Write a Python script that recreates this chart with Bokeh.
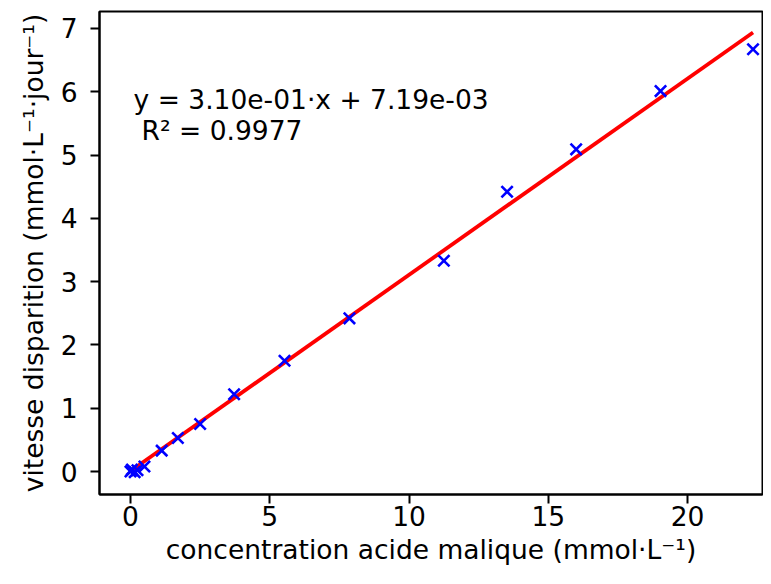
from bokeh.plotting import figure
from bokeh.models import FixedTicker, Range1d
from bokeh.core.properties import value
from bokeh.embed import file_html
from bokeh.resources import INLINE

# Data
conc = [0.0, 0.05, 0.15, 0.25, 0.5, 1.12, 1.70, 2.50, 3.72, 5.53, 7.86, 11.25, 13.52, 16.0, 19.03, 22.35]
vitesse = [0.0, 0.03, -0.01, 0.02, 0.08, 0.33, 0.53, 0.75, 1.22, 1.75, 2.42, 3.33, 4.42, 5.09, 6.01, 6.67]
slope = 3.10e-01
intercept = 7.19e-03
r2 = 0.9977
x_ticks = [0, 5, 10, 15, 20]
y_ticks = [0, 1, 2, 3, 4, 5, 6, 7]
eq_lines = ["y = 3.10e-01·x + 7.19e-03", "R² = 0.9977"]

FONT = "DejaVu Sans"
FS = "26.5px"

p = figure(width=763, height=568, output_backend="svg", toolbar_location=None,
           x_range=Range1d(-1.113, 22.69), y_range=Range1d(-0.363, 7.267),
           min_border_left=99, min_border_right=1, min_border_top=11, min_border_bottom=74)
p.background_fill_color = "white"
p.border_fill_color = "white"
p.outline_line_color = "black"
p.outline_line_width = 2
p.grid.visible = False

fit_x = [min(conc), max(conc)]
fit_y = [slope * v + intercept for v in fit_x]
p.line(fit_x, fit_y, line_color="#ff0000", line_width=3.8)
p.scatter(conc, vitesse, marker="x", size=16, line_color="#0000ff", line_width=2.6)

p.text(x=[0.11], y=[5.87], text=[eq_lines[0]], text_font=value(FONT), text_font_size=FS,
       text_color="black", text_baseline="alphabetic", text_align="left")
p.text(x=[0.11], y=[5.38], text=[eq_lines[1]], text_font=value(FONT), text_font_size=FS,
       text_color="black", text_baseline="alphabetic", text_align="left", x_offset=8)

for ax in (p.xaxis[0], p.yaxis[0]):
    ax.axis_line_width = 2
    ax.major_tick_line_width = 2
    ax.major_tick_out = 9
    ax.major_tick_in = 0
    ax.minor_tick_out = 0
    ax.minor_tick_in = 0
    ax.major_label_text_font = FONT
    ax.major_label_text_font_size = FS
    ax.major_label_text_color = "black"
    ax.axis_label_text_font = FONT
    ax.axis_label_text_font_size = FS
    ax.axis_label_text_font_style = "normal"
    ax.axis_label_text_color = "black"

p.xaxis.ticker = FixedTicker(ticks=x_ticks)
p.yaxis.ticker = FixedTicker(ticks=y_ticks)
p.xaxis.major_label_standoff = 2
p.yaxis.major_label_standoff = 13
p.xaxis.axis_label = "concentration acide malique (mmol·L⁻¹)"
p.yaxis.axis_label = "vitesse disparition (mmol·L⁻¹·jour⁻¹)"
p.xaxis.axis_label_standoff = 5
p.yaxis.axis_label_standoff = 9

open("out.html", "w").write(file_html(p, INLINE))
